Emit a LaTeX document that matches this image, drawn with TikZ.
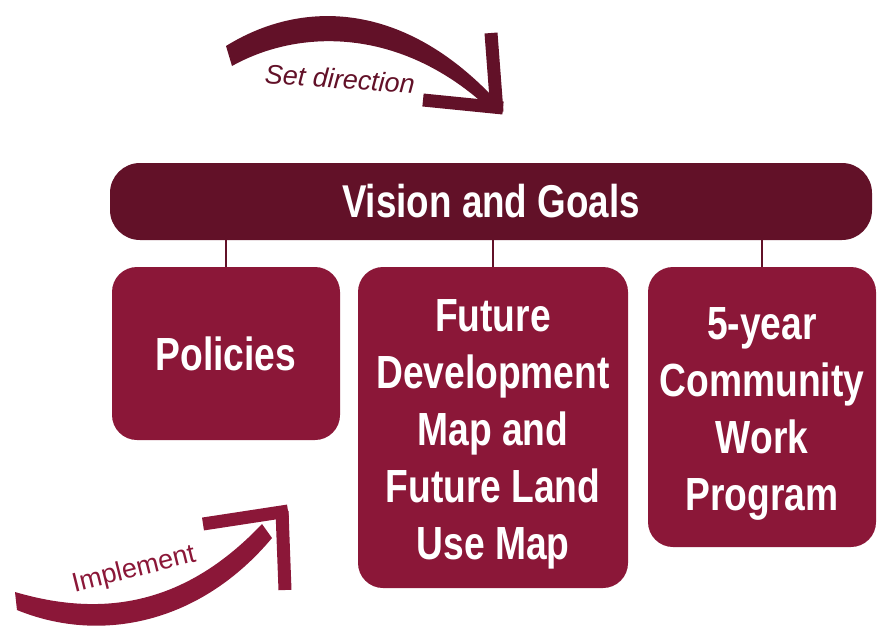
\documentclass[tikz,border=0pt]{standalone}
\usepackage{fontspec}
\setmainfont{Liberation Sans}
\newfontfamily\boxfont{Liberation Sans}[FakeStretch=0.80]
\usepackage{tikz}
\usetikzlibrary{positioning, calc}

\definecolor{darkwine}{RGB}{98,17,40}
\definecolor{wine}{RGB}{139,23,56}
\newcommand{\topgap}{\rule{0pt}{45pt}}

\begin{document}
\begin{tikzpicture}[x=1pt, y=-1pt,
    goalbar/.style={fill=darkwine, rounded corners=30pt, minimum width=762pt, minimum height=77pt,
        inner sep=0pt, text=white, font=\boxfont\bfseries\fontsize{46}{57}\selectfont},
    partbox/.style={fill=wine, rounded corners=25pt, inner sep=0pt, align=center,
        text=white, font=\boxfont\bfseries\fontsize{46.5}{57}\selectfont},
    link/.style={draw=darkwine, line width=2pt},
    armstroke/.style={line width=13pt, line cap=butt}]
    \useasboundingbox (0,0) rectangle (879,633);

    \node[goalbar] (vision) at (491, 201.5) {Vision and Goals};
    \node[partbox, minimum width=228pt, minimum height=173pt] (policies) at (226, 353.5) {Policies};
    \node[partbox, minimum width=270pt, minimum height=321pt] (maps) at (493, 427.5)
        {\topgap Future\\Development\\Map and\\Future Land\\Use Map};
    \node[partbox, minimum width=228pt, minimum height=280pt] (program) at (762, 407)
        {\topgap 5-year\\Community\\Work\\Program};

    \draw[link] (vision.south -| policies.north) -- (policies.north);
    \draw[link] (vision.south -| maps.north) -- (maps.north);
    \draw[link] (vision.south -| program.north) -- (program.north);

    % set direction arrow
    \coordinate (sdtip) at (497, 112);
    \fill[darkwine] (226,46) .. controls (300,0) and (400,0) .. (492,96)
        -- (486,106) .. controls (400,28) and (300,28) .. (232,66) -- cycle;
    \draw[darkwine, armstroke] (491,33) -- (sdtip);
    \draw[darkwine, armstroke] (423,100) -- (503,108);
    \node[text=darkwine, rotate=-4, font=\itshape\fontsize{27}{30}\selectfont] (setdir) at (340, 79) {Set direction};

    % implement arrow
    \coordinate (imtip) at (282, 511);
    \fill[wine] (15,592) .. controls (110,620) and (190,600) .. (262,524)
        -- (272,538) .. controls (200,624) and (100,644) .. (17,610) -- cycle;
    \draw[wine, armstroke] (203,524) -- (288,511);
    \draw[wine, armstroke] (imtip) -- (285,590);
    \node[text=wine, rotate=14, font=\fontsize{27}{30}\selectfont] (impl) at (134, 570) {Implement};
\end{tikzpicture}
\end{document}
